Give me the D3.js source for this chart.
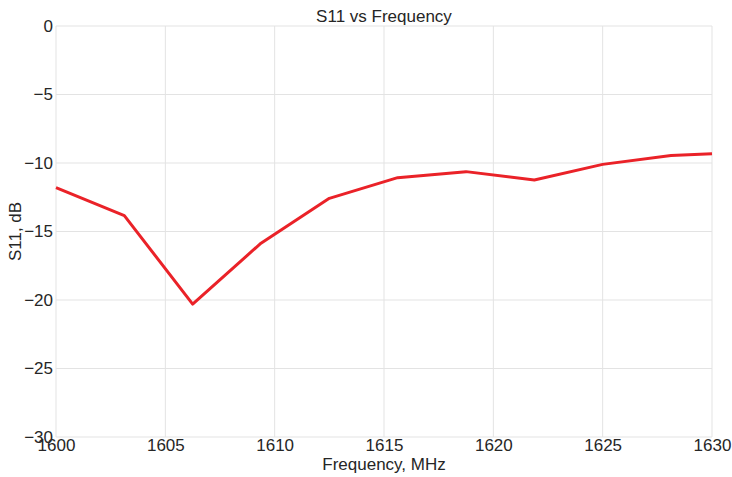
<!DOCTYPE html>
<html>
<head>
<meta charset="utf-8">
<script src="https://cdn.jsdelivr.net/npm/d3@7"></script>
<style>
  body { margin: 0; background: #fff; }
  text { font-family: "Liberation Sans", Arial, sans-serif; fill: #262626; }
</style>
</head>
<body>
<div id="chart"></div>
<script>
// S11 sweep
const freq = [1600, 1603.125, 1606.25, 1609.375, 1612.5, 1615.625, 1618.75, 1621.875, 1625, 1628.125, 1630];
const s11 = [-11.8, -13.84, -20.3, -15.85, -12.58, -11.07, -10.63, -11.24, -10.1, -9.46, -9.33];
const xTicks = [1600, 1605, 1610, 1615, 1620, 1625, 1630];
const yTicks = [0, -5, -10, -15, -20, -25, -30];

var width = 732, height = 477;
var margin = {left: 56, right: 20, top: 26, bottom: 40};

var svg = d3.select("#chart").append("svg")
  .attr("width", width)
  .attr("height", height);

var x = d3.scaleLinear().domain([1600, 1630]).range([margin.left, width - margin.right]);
var y = d3.scaleLinear().domain([-30, 0]).range([height - margin.bottom, margin.top]);

// grid
svg.append("g").selectAll("line")
  .data(xTicks).enter().append("line")
  .attr("x1", d => x(d)).attr("x2", d => x(d))
  .attr("y1", y(0)).attr("y2", y(-30))
  .attr("stroke", "#e3e3e3").attr("stroke-width", 1);
svg.append("g").selectAll("line")
  .data(yTicks).enter().append("line")
  .attr("y1", d => y(d)).attr("y2", d => y(d))
  .attr("x1", x(1600)).attr("x2", x(1630))
  .attr("stroke", "#e3e3e3").attr("stroke-width", 1);

// axes (labels only)
var xAxis = svg.append("g")
  .attr("transform", "translate(0," + y(-30) + ")")
  .call(d3.axisBottom(x).tickValues(xTicks).tickSize(0).tickPadding(2).tickFormat(d3.format("d")));
var yAxis = svg.append("g")
  .attr("transform", "translate(" + x(1600) + ",0)")
  .call(d3.axisLeft(y).tickValues(yTicks).tickSize(0).tickPadding(3).tickFormat(d => d < 0 ? "\u2212" + Math.abs(d) : d));
[xAxis, yAxis].forEach(g => {
  g.select(".domain").remove();
  g.selectAll("text").attr("font-size", 17).attr("font-family", "Liberation Sans, Arial, sans-serif").attr("fill", "#262626");
});

// line
var line = d3.line().x((d, i) => x(freq[i])).y(d => y(d));
svg.append("path")
  .datum(s11)
  .attr("d", line)
  .attr("fill", "none")
  .attr("stroke", "#ea2228")
  .attr("stroke-width", 3)
  .attr("stroke-linejoin", "round");

// titles
svg.append("text")
  .attr("x", (x(1600) + x(1630)) / 2).attr("y", 22)
  .attr("text-anchor", "middle").attr("font-size", 17)
  .text("S11 vs Frequency");
svg.append("text")
  .attr("x", (x(1600) + x(1630)) / 2).attr("y", 470)
  .attr("text-anchor", "middle").attr("font-size", 17)
  .text("Frequency, MHz");
svg.append("text")
  .attr("transform", "translate(21," + ((y(0) + y(-30)) / 2) + ") rotate(-90)")
  .attr("text-anchor", "middle").attr("font-size", 17)
  .text("S11, dB");
</script>
</body>
</html>
